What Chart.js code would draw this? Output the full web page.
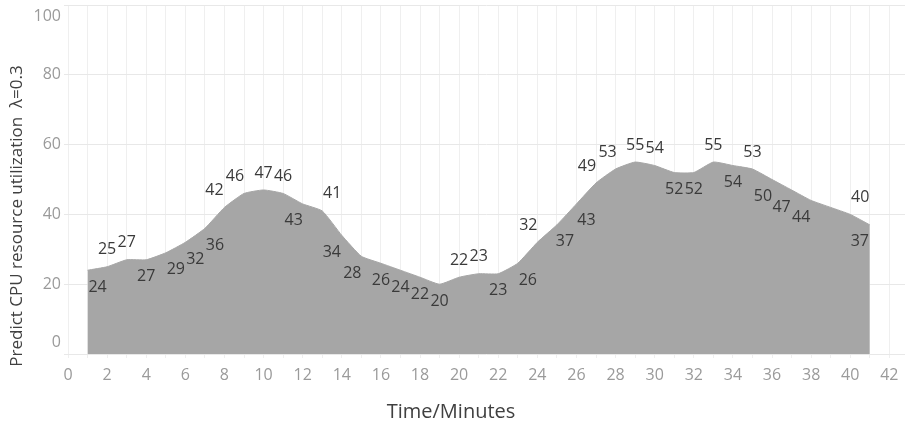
<!DOCTYPE html>
<html>
<head>
<meta charset="utf-8">
<script src="https://cdn.jsdelivr.net/npm/chart.js@4/dist/chart.umd.min.js"></script>
<style>
  html, body { margin: 0; padding: 0; background: #ffffff; }
  #wrap { width: 905px; height: 427px; position: relative; }
</style>
</head>
<body>
<div id="wrap"><canvas id="c" width="905" height="427"></canvas></div>
<script>
// ---- data ----
const minutes = [1, 2, 3, 4, 5, 6, 7, 8, 9, 10,
                 11, 12, 13, 14, 15, 16, 17, 18, 19, 20,
                 21, 22, 23, 24, 25, 26, 27, 28, 29, 30,
                 31, 32, 33, 34, 35, 36, 37, 38, 39, 40, 41];
const cpuUtil = [24, 25, 27, 27, 29, 32, 36, 42, 46, 47,
                 46, 43, 41, 34, 28, 26, 24, 22, 20, 22,
                 23, 23, 26, 32, 37, 43, 49, 53, 55, 54,
                 52, 52, 55, 54, 53, 50, 47, 44, 42, 40, 37];
const xTickLabels = [0, 2, 4, 6, 8, 10, 12, 14, 16, 18, 20, 22, 24, 26, 28, 30, 32, 34, 36, 38, 40, 42];
const yTickLabels = [0, 20, 40, 60, 80, 100];
const xTitle = 'Time/Minutes';
const yTitle = 'Predict CPU resource utilization  \u03BB=0.3';

// ---- label placement (style): a = above, b = below, '' = hidden; shift in steps of 10px ----
const labelSide  = ['b','a','a','b','b','b','b','a','a','a',
                    'a','b','a','b','b','b','b','b','b','a',
                    'a','b','b','a','b','b','a','a','a','a',
                    'b','b','a','b','a','b','b','b','','a','b'];
const labelShift = [1,0,0,0,1,1,1,-1,-0.9,0,
                    0,-0.9,1,-1,-0.9,0,0,0,0,0,
                    0,0,1,-0.9,0.8,1,-0.9,-0.8,0,0,
                    0,0,0,0,0,-0.9,-1,-1,0,1,-1];

const FONT = '"Open Sans", "Noto Sans", sans-serif';

const valueLabels = {
  id: 'valueLabels',
  afterDatasetsDraw(chart) {
    const ctx = chart.ctx;
    const meta = chart.getDatasetMeta(0);
    ctx.save();
    ctx.font = '16px ' + FONT;
    ctx.fillStyle = '#3a3a3a';
    ctx.textAlign = 'center';
    ctx.textBaseline = 'middle';
    meta.data.forEach((pt, i) => {
      const side = labelSide[i];
      if (!side) return;
      ctx.fillText(String(cpuUtil[i]), pt.x + labelShift[i] * 10, pt.y + (side === 'a' ? -17 : 17));
    });
    ctx.restore();
  },
  afterDraw(chart) {
    const ctx = chart.ctx;
    ctx.save();
    ctx.fillStyle = '#404040';
    ctx.textAlign = 'center';
    ctx.textBaseline = 'middle';
    ctx.font = '20px ' + FONT;
    ctx.fillText(xTitle, 451, 412);
    ctx.translate(17, 216);
    ctx.rotate(-Math.PI / 2);
    ctx.font = '17px ' + FONT;
    ctx.fillText(yTitle, 0, 0);
    ctx.restore();
  }
};

new Chart(document.getElementById('c'), {
  type: 'line',
  data: {
    datasets: [{
      data: minutes.map((m, i) => ({ x: m, y: cpuUtil[i] })),
      fill: 'origin',
      backgroundColor: '#a6a6a6',
      borderColor: '#a6a6a6',
      borderWidth: 1,
      pointRadius: 0,
      tension: 0.15
    }]
  },
  options: {
    responsive: false,
    animation: false,
    layout: { padding: { top: 5, right: 0, bottom: 0, left: 0 } },
    plugins: { legend: { display: false }, tooltip: { enabled: false } },
    scales: {
      x: {
        type: 'linear',
        min: 0,
        max: 42.8,
        border: { display: false },
        grid: { color: '#efefef', tickLength: 4 },
        afterBuildTicks: s => {
          const t = [];
          for (let v = 0; v <= 42; v++) t.push({ value: v });
          s.ticks = t;
        },
        ticks: {
          autoSkip: false,
          maxRotation: 0,
          padding: 8,
          color: '#9a9a9a',
          font: { family: FONT, size: 16 },
          callback: v => xTickLabels.includes(v) ? String(v) : ''
        },
        afterFit: s => { s.height = 73; s.paddingRight = 0; }
      },
      y: {
        min: 0,
        max: 100,
        border: { display: false },
        grid: { color: '#e8e8e8', tickLength: 4 },
        ticks: {
          stepSize: 20,
          padding: 3,
          color: '#9a9a9a',
          font: { family: FONT, size: 16, lineHeight: 1.44 },
          callback: v => {
            if (!yTickLabels.includes(v)) return '';
            if (v === 100) return ['', String(v)];
            if (v === 0) return [String(v), ''];
            return String(v);
          }
        },
        afterFit: s => { s.width = 68; s.paddingTop = 0; s.paddingBottom = 0; }
      }
    }
  },
  plugins: [valueLabels]
});
</script>
</body>
</html>
